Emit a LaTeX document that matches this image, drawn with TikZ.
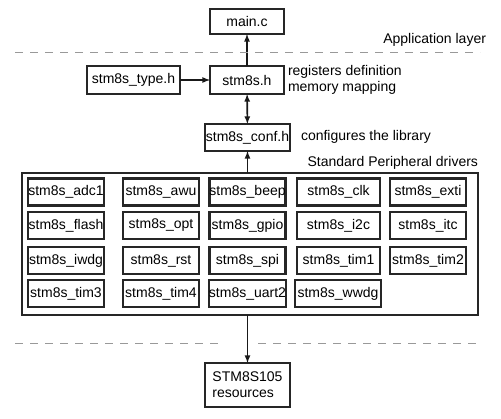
\documentclass[tikz,border=0pt]{standalone}
\usepackage{fontspec}
\setmainfont{Liberation Sans}
\begin{document}
\begin{tikzpicture}[x=1pt, y=-1pt]
\tikzset{ >=latex, inner sep=0pt, outer sep=0pt, font=\fontsize{14}{16}\selectfont,
  file/.style={draw=black!85, line width=2.6pt, minimum height=28pt, align=center},
  drv/.style={draw=black!85, line width=2.6pt, minimum width=76pt, minimum height=27pt},
  sep/.style={gray!80, dash pattern=on 8pt off 7pt, line width=0.6pt},
  link/.style={->, line width=1.6pt, black!90},
}
\useasboundingbox (0,0) rectangle (501,418);

%\draw [lightgray, dashed](0,0) grid (501,418);

\node [file, minimum width=74pt, minimum height=25pt] (main) at (247,21.5) {main.c};
\node [file, minimum width=93pt] (typeh) at (133.5,80) {stm8s\_type.h};
\node [file, minimum width=74pt] (stmh)  at (247,80) {stm8s.h};
\node [file, minimum width=85pt, minimum height=27pt] (conf) at (247.5,137.5) {stm8s\_conf.h};
\node [file, minimum width=85pt, minimum height=44pt, align=left] (res) at (247.5,385) {STM8S105\\resources};

\node [draw=black!85, line width=2pt, minimum width=456pt, minimum height=142pt] (drivers) at (250,244) {};

\node [drv] (adc)   at (66,192)    {stm8s\_adc1};
\node [drv] (awu)   at (161,192)   {stm8s\_awu};
\node [drv] (beep)  at (247.5,192) {stm8s\_beep};
\node [drv, minimum width=83pt] (clk)   at (338.5,192) {stm8s\_clk};
\node [drv] (exti)  at (428,192)   {stm8s\_exti};

\node [drv] (flash) at (66,225.5)    {stm8s\_flash};
\node [drv] (opt)   at (161,225.5)   {stm8s\_opt};
\node [drv] (gpio)  at (247.5,225.5) {stm8s\_gpio};
\node [drv, minimum width=83pt] (itwoc) at (338.5,225.5) {stm8s\_i2c};
\node [drv] (itc)   at (428,225.5)   {stm8s\_itc};

\node [drv] (iwdg)  at (66,260.5)    {stm8s\_iwdg};
\node [drv] (rst)   at (161,260.5)   {stm8s\_rst};
\node [drv] (spi)   at (247.5,260.5) {stm8s\_spi};
\node [drv, minimum width=83pt] (timone) at (338.5,260.5) {stm8s\_tim1};
\node [drv] (timtwo) at (428,260.5)  {stm8s\_tim2};

\node [drv] (timthree) at (66,293.5)   {stm8s\_tim3};
\node [drv] (timfour)  at (161,293.5)  {stm8s\_tim4};
\node [drv] (uart)     at (247.5,293.5) {stm8s\_uart2};
\node [drv, minimum width=86pt] (wwdg) at (338,293.5) {stm8s\_wwdg};

\draw [link] (stmh) -- (main);
\draw [link] (typeh) -- (stmh);
\draw [link, <->] (stmh) -- (conf);
\draw [link] (conf.south |- drivers.north) -- (conf.south);
\draw [link] (res.north |- drivers.south) -- (res.north);

\draw [sep] (15,52) -- (480,52);
\draw [sep] (15,343) -- (222,343);
\draw [sep] (258,343) -- (480,343);

\node [anchor=east] (applbl) at (486,40) {Application layer};
\node [anchor=west, align=left] (stmlbl) at (288,80) {registers definition\\memory mapping};
\node [anchor=west] (conflbl) at (301,137) {configures the library};
\node [anchor=east] (drvlbl) at (478,163) {Standard Peripheral drivers};
\end{tikzpicture}
\end{document}
